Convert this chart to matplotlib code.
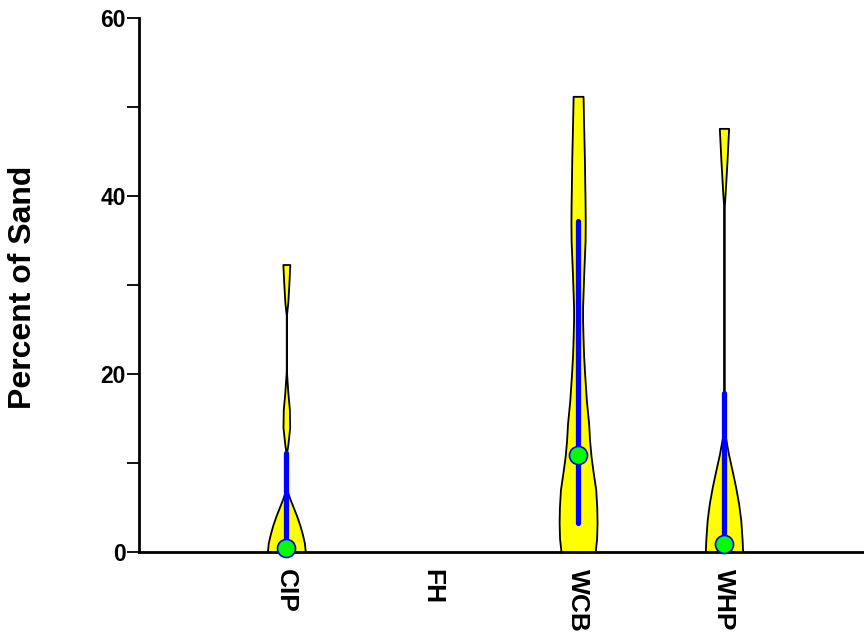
import numpy as np
import matplotlib
matplotlib.use("Agg")
import matplotlib.pyplot as plt

plt.rcParams['font.family'] = ['Liberation Sans', 'DejaVu Sans']
plt.rcParams['font.weight'] = 'bold'

sites = ['CIP', 'FH', 'WCB', 'WHP']

# violin outlines: sand percent levels and half-widths (x units) of the density shape
cip_y = [0, 1, 2, 3, 4, 5, 6, 6.8, 7.2, 11, 12, 14, 16, 18, 20, 20.5, 26.5, 28, 30, 32.3]
cip_w = [0.130, 0.124, 0.110, 0.093, 0.072, 0.048, 0.024, 0.007, 0.0, 0.0,
         0.010, 0.023, 0.021, 0.010, 0.002, 0.0, 0.0, 0.010, 0.017, 0.024]

wcb_y = [0, 1.5, 3.3, 5, 7, 9, 10.7, 12.5, 14.5, 17, 20, 22, 24, 26, 27.5,
         29, 31, 33, 35, 37, 39, 41, 44.4, 48, 51.2]
wcb_w = [0.117, 0.127, 0.130, 0.128, 0.121, 0.103, 0.089, 0.079, 0.072, 0.057,
         0.045, 0.038, 0.034, 0.031, 0.031, 0.034, 0.038, 0.043, 0.048, 0.049,
         0.048, 0.046, 0.043, 0.038, 0.034]

whp_y = [0, 1.5, 3.6, 5.5, 7.3, 9, 11, 12.9, 14, 38.3, 40, 42, 44, 46, 47.6]
whp_w = [0.128, 0.124, 0.115, 0.100, 0.080, 0.058, 0.031, 0.010, 0.0, 0.0,
         0.007, 0.014, 0.021, 0.027, 0.032]

# summary bars (blue) and medians (green)
bar_lo = [0, 3.3, 0]
bar_hi = [11.1, 37.2, 17.9]
medians = [0.4, 10.9, 0.9]
positions = [1, 3, 4]

fig = plt.figure(figsize=(8.64, 6.36), dpi=100)
ax = fig.add_axes([139 / 864, 84 / 636, 725 / 864, 534 / 636])

shapes = [(cip_y, cip_w), (wcb_y, wcb_w), (whp_y, whp_w)]
for pos, (ys, ws) in zip(positions, shapes):
    ys = np.array(ys)
    ws = np.array(ws)
    ax.fill_betweenx(ys, pos - ws, pos + ws, facecolor='yellow',
                     edgecolor='black', linewidth=1.3, zorder=2)

for pos, lo, hi, med in zip(positions, bar_lo, bar_hi, medians):
    ax.plot([pos, pos], [lo, hi], color='blue', linewidth=3.8,
            solid_capstyle='round', zorder=3)
    ax.plot(pos, med, 'o', markersize=13, markerfacecolor='#00ff00',
            markeredgecolor='blue', markeredgewidth=1.2, zorder=4, clip_on=False)

ax.set_xlim(-0.01, 4.96)
ax.set_ylim(0, 60)
ax.set_xticks(range(1, len(sites) + 1))
ax.set_xticklabels(sites, rotation=270, fontsize=19, fontweight='bold', va='top')
ax.set_yticks([0, 20, 40, 60])
ax.set_yticks([10, 30, 50], minor=True)
ax.tick_params(axis='y', which='both', length=8.5, width=1.3, pad=1, labelsize=16.5)
ax.tick_params(axis='x', length=0, pad=12)

for side in ['top', 'right']:
    ax.spines[side].set_visible(False)
for side in ['left', 'bottom']:
    ax.spines[side].set_linewidth(2)
    ax.spines[side].set_zorder(3.5)

ax.set_ylabel('Percent of Sand', fontsize=23, fontweight='bold', va='center')
ax.yaxis.set_label_coords((23 - 139) / 725, 0.496)

fig.savefig('out.png', dpi=100)
